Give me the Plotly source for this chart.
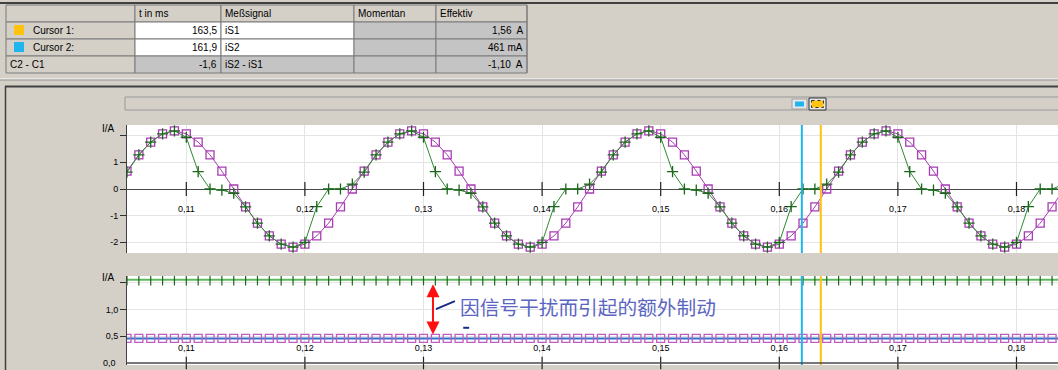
import plotly.graph_objects as go

# ---------------- data ----------------
t_ms = [105, 106, 107, 108, 109, 110, 111, 112, 113, 114,
        115, 116, 117, 118, 119, 120, 121, 122, 123,
        124, 125, 126, 127, 128, 129, 130, 131, 132, 133,
        134, 135, 136, 137, 138, 139, 140, 141, 142, 143,
        144, 145, 146, 147, 148, 149, 150, 151, 152, 153,
        154, 155, 156, 157, 158, 159, 160, 161, 162, 163,
        164, 165, 166, 167, 168, 169, 170, 171, 172, 173,
        174, 175, 176, 177, 178, 179, 180, 181, 182, 183,
        184]

# upper chart, pink squares (undisturbed sine)
i_ref = [0.67, 1.28, 1.76, 2.07, 2.18, 2.07, 1.76, 1.28, 0.67, 0.00,
         -0.67, -1.28, -1.76, -2.07, -2.18, -2.07, -1.76, -1.28, -0.67,
         0.00, 0.67, 1.28, 1.76, 2.07, 2.18, 2.07, 1.76, 1.28, 0.67,
         0.00, -0.67, -1.28, -1.76, -2.07, -2.18, -2.07, -1.76, -1.28, -0.67,
         0.00, 0.67, 1.28, 1.76, 2.07, 2.18, 2.07, 1.76, 1.28, 0.67,
         0.00, -0.67, -1.28, -1.76, -2.07, -2.18, -2.07, -1.76, -1.28, -0.67,
         0.00, 0.67, 1.28, 1.76, 2.07, 2.18, 2.07, 1.76, 1.28, 0.67,
         0.00, -0.67, -1.28, -1.76, -2.07, -2.18, -2.07, -1.76, -1.28, -0.67,
         0.00]

# upper chart, green crosses (disturbed signal)
i_meas = [0.63, 1.28, 1.76, 2.07, 2.18, 1.94, 0.65, 0.00, -0.04, -0.16,
          -0.67, -1.28, -1.76, -2.07, -2.18, -2.00, -0.66, 0.00, 0.00,
          0.18, 0.63, 1.28, 1.76, 2.07, 2.18, 1.94, 0.65, 0.00, -0.04,
          -0.16, -0.67, -1.28, -1.76, -2.07, -2.18, -2.00, -0.66, 0.00, 0.00,
          0.18, 0.63, 1.28, 1.76, 2.07, 2.18, 1.94, 0.65, 0.00, -0.04,
          -0.16, -0.67, -1.28, -1.76, -2.07, -2.18, -2.00, -0.66, 0.00, 0.00,
          0.18, 0.63, 1.28, 1.76, 2.07, 2.18, 1.94, 0.65, 0.00, -0.04,
          -0.16, -0.67, -1.28, -1.76, -2.07, -2.18, -2.00, -0.66, 0.00, 0.00,
          0.18]

# lower chart, effective values
rms_meas = [1.56, 1.56, 1.56, 1.56, 1.56, 1.56, 1.56, 1.56, 1.56, 1.56,
            1.56, 1.56, 1.56, 1.56, 1.56, 1.56, 1.56, 1.56, 1.56, 1.56,
            1.56, 1.56, 1.56, 1.56, 1.56, 1.56, 1.56, 1.56, 1.56, 1.56,
            1.56, 1.56, 1.56, 1.56, 1.56, 1.56, 1.56, 1.56, 1.56, 1.56,
            1.56, 1.56, 1.56, 1.56, 1.56, 1.56, 1.56, 1.56, 1.56, 1.56,
            1.56, 1.56, 1.56, 1.56, 1.56, 1.56, 1.56, 1.56, 1.56, 1.56,
            1.56, 1.56, 1.56, 1.56, 1.56, 1.56, 1.56, 1.56, 1.56, 1.56,
            1.56, 1.56, 1.56, 1.56, 1.56, 1.56, 1.56, 1.56, 1.56, 1.56]
rms_ref = [0.461, 0.461, 0.461, 0.461, 0.461, 0.461, 0.461, 0.461, 0.461, 0.461,
           0.461, 0.461, 0.461, 0.461, 0.461, 0.461, 0.461, 0.461, 0.461, 0.461,
           0.461, 0.461, 0.461, 0.461, 0.461, 0.461, 0.461, 0.461, 0.461, 0.461,
           0.461, 0.461, 0.461, 0.461, 0.461, 0.461, 0.461, 0.461, 0.461, 0.461,
           0.461, 0.461, 0.461, 0.461, 0.461, 0.461, 0.461, 0.461, 0.461, 0.461,
           0.461, 0.461, 0.461, 0.461, 0.461, 0.461, 0.461, 0.461, 0.461, 0.461,
           0.461, 0.461, 0.461, 0.461, 0.461, 0.461, 0.461, 0.461, 0.461, 0.461,
           0.461, 0.461, 0.461, 0.461, 0.461, 0.461, 0.461, 0.461, 0.461, 0.461]

x_tickvals = [0.11, 0.12, 0.13, 0.14, 0.15, 0.16, 0.17, 0.18]
x_ticktext = ["0,11", "0,12", "0,13", "0,14", "0,15", "0,16", "0,17", "0,18"]
y1_tickvals = [-2, -1, 0, 1, 2]
y1_ticktext = ["-2", "-1", "0", "1", ""]
y2_tickvals = [0.0, 0.5, 1.0, 1.5]
y2_ticktext = ["0,0", "0,5", "1,0", ""]

cursor_ms = [163.5, 161.9]          # cursor 1, cursor 2
cursor_colors = ["#ffc20e", "#1eb4ec"]

table_header = ["", "t in ms", "Meßsignal", "Momentan", "Effektiv"]
table_rows = [["Cursor 1:", "163,5", "iS1", "", "1,56  A"],
              ["Cursor 2:", "161,9", "iS2", "", "461 mA"],
              ["C2 - C1", "-1,6", "iS2 - iS1", "", "-1,10  A"]]

note_text = "因信号干扰而引起的额外制动"

# ---------------- geometry helpers (pixel -> paper) ----------------
W, H = 1058, 370


def fx(px):
    return px / W


def fy(py):
    return 1 - py / H


t = [v / 1000 for v in t_ms]
X_RANGE = [0.105, 0.1835]
GRID = "#e4e4e4"
BG = "#d4d0c8"
FONT = "Liberation Sans, Arial, sans-serif"

fig = go.Figure()

# upper chart
fig.add_trace(go.Scatter(
    x=t, y=i_ref, xaxis="x", yaxis="y", mode="lines+markers", name="iS1",
    line=dict(color="#a83cb4", width=1),
    marker=dict(symbol="square-open", size=8, color="#a83cb4", line=dict(width=1.3))))
fig.add_trace(go.Scatter(
    x=t, y=i_meas, xaxis="x", yaxis="y", mode="lines+markers", name="iS2",
    line=dict(color="#2e8a2e", width=1),
    marker=dict(symbol="cross-thin-open", size=8, color="#1c661c",
                line=dict(width=1.3, color="#1c661c"))))
# crossing tick marks on the zero line (upper)
fig.add_trace(go.Scatter(
    x=x_tickvals, y=[0] * len(x_tickvals), xaxis="x", yaxis="y", mode="markers",
    hoverinfo="skip",
    marker=dict(symbol="line-ns", size=10, color="#202020", line=dict(width=1.2, color="#202020"))))

# lower chart
fig.add_trace(go.Scatter(
    x=t, y=rms_meas, xaxis="x2", yaxis="y2", mode="lines+markers", name="rms iS1",
    line=dict(color="#5cb85c", width=2),
    marker=dict(symbol="line-ns", size=8, color="#1c661c", line=dict(width=1.2, color="#1c661c"))))
fig.add_trace(go.Scatter(
    x=t, y=rms_ref, xaxis="x2", yaxis="y2", mode="lines+markers", name="rms iS2",
    line=dict(color="#2a74c8", width=2),
    marker=dict(symbol="square-open", size=8, color="#c05cc0", line=dict(width=1.3))))
fig.add_trace(go.Scatter(
    x=x_tickvals, y=[0] * len(x_tickvals), xaxis="x2", yaxis="y2", mode="markers",
    hoverinfo="skip", cliponaxis=False,
    marker=dict(symbol="line-ns", size=9, color="#202020", line=dict(width=1.2, color="#202020"))))

shapes = []
annotations = []

# cursors
for ms, col in zip(cursor_ms, cursor_colors):
    for xr, yr in (("x", "y domain"), ("x2", "y2 domain")):
        shapes.append(dict(type="line", xref=xr, yref=yr, x0=ms / 1000, x1=ms / 1000,
                           y0=0, y1=1, line=dict(color=col, width=2)))

# lower chart zero axis line and its label (plotly hides the edge tick label)
shapes.append(dict(type="line", xref="x2 domain", yref="y2", x0=0, x1=1, y0=y2_tickvals[0], y1=y2_tickvals[0],
                   line=dict(color="#4a4a4a", width=1.5)))
annotations.append(dict(xref="paper", yref="y2", x=fx(118), y=y2_tickvals[0], xanchor="right",
                        yanchor="middle", text=y2_ticktext[0], showarrow=False,
                        font=dict(size=9, family=FONT, color="#000000")))
y2_axis_text = [""] + y2_ticktext[1:]

# ---------------- window chrome ----------------
shapes.append(dict(type="line", xref="paper", yref="paper", x0=0, x1=1, y0=fy(3), y1=fy(3),
                   line=dict(color="#404040", width=2)))
shapes.append(dict(type="line", xref="paper", yref="paper", x0=0, x1=1, y0=fy(79), y1=fy(79),
                   line=dict(color="#ffffff", width=1)))
shapes.append(dict(type="line", xref="paper", yref="paper", x0=0, x1=1, y0=fy(80), y1=fy(80),
                   line=dict(color="#909090", width=1)))
shapes.append(dict(type="line", xref="paper", yref="paper", x0=fx(5), x1=1, y0=fy(86.5), y1=fy(86.5),
                   line=dict(color="#404040", width=2)))
shapes.append(dict(type="line", xref="paper", yref="paper", x0=fx(5.5), x1=fx(5.5), y0=fy(86), y1=0,
                   line=dict(color="#404040", width=1.5)))
# scroll bar + cursor buttons
shapes.append(dict(type="rect", xref="paper", yref="paper", x0=fx(125), x1=fx(1060), y0=fy(97), y1=fy(110),
                   fillcolor=BG, line=dict(color="#9a9a9a", width=1)))
shapes.append(dict(type="rect", xref="paper", yref="paper", x0=fx(792), x1=fx(807), y0=fy(99), y1=fy(109),
                   fillcolor="#e8e8e8", line=dict(color="#a0a0a0", width=1)))
shapes.append(dict(type="rect", xref="paper", yref="paper", x0=fx(795), x1=fx(804), y0=fy(101.5), y1=fy(106.5),
                   fillcolor=cursor_colors[1], line=dict(width=0)))
shapes.append(dict(type="rect", xref="paper", yref="paper", x0=fx(809), x1=fx(826), y0=fy(98), y1=fy(110),
                   fillcolor="#e8e8e8", line=dict(color="#303030", width=1)))
shapes.append(dict(type="rect", xref="paper", yref="paper", x0=fx(811.5), x1=fx(823.5), y0=fy(100.5), y1=fy(107.5),
                   fillcolor=cursor_colors[0], line=dict(color="#303030", width=1, dash="dot")))

# ---------------- table ----------------
cols = [6, 135, 221, 354, 436, 527]
rows = [5, 22, 39, 56, 73]
cell_fill = [[BG, BG, BG, BG, BG],
             [BG, "#ffffff", "#ffffff", "#c4c4c4", "#c4c4c4"],
             [BG, "#ffffff", "#ffffff", "#c4c4c4", "#c4c4c4"],
             [BG, "#c4c4c4", "#c4c4c4", "#c4c4c4", "#c4c4c4"]]
align = ["left", "right", "left", "left", "right"]
all_rows = [table_header] + table_rows
for r in range(4):
    for c in range(5):
        shapes.append(dict(type="rect", xref="paper", yref="paper",
                           x0=fx(cols[c]), x1=fx(cols[c + 1]), y0=fy(rows[r + 1]), y1=fy(rows[r]),
                           fillcolor=cell_fill[r][c], line=dict(color="#7a7a7a", width=1)))
        txt = all_rows[r][c]
        if not txt:
            continue
        if c == 0 and r in (1, 2):
            xa, xpos = "left", cols[0] + 25
            sq_col = cursor_colors[r - 1]
            shapes.append(dict(type="rect", xref="paper", yref="paper",
                               x0=fx(cols[0] + 8), x1=fx(cols[0] + 18),
                               y0=fy(rows[r] + 13), y1=fy(rows[r] + 3),
                               fillcolor=sq_col, line=dict(width=0)))
        elif align[c] == "right" and r > 0:
            xa, xpos = "right", cols[c + 1] - 2
        else:
            xa, xpos = "left", cols[c] + 2
        annotations.append(dict(xref="paper", yref="paper", x=fx(xpos), y=fy((rows[r] + rows[r + 1]) / 2),
                                xanchor=xa, yanchor="middle", text=txt, showarrow=False,
                                font=dict(size=10, family=FONT, color="#000000")))
shapes.append(dict(type="line", xref="paper", yref="paper", x0=fx(cols[-1]), x1=fx(cols[-1]),
                   y0=fy(rows[-1]), y1=fy(rows[0]), line=dict(color="#7a7a7a", width=1)))

# axis unit labels
annotations.append(dict(xref="paper", yref="paper", x=fx(117), y=fy(128), xanchor="right", yanchor="middle",
                        text="I/A", showarrow=False, font=dict(size=10, family=FONT)))
annotations.append(dict(xref="paper", yref="paper", x=fx(117), y=fy(277), xanchor="right", yanchor="middle",
                        text="I/A", showarrow=False, font=dict(size=10, family=FONT)))

# red double arrow between the two effective-value lines
arrow_x = 0.1308
annotations.append(dict(xref="x2", yref="y2", axref="x2", ayref="y2",
                        x=arrow_x, y=rms_ref[0], ax=arrow_x, ay=rms_meas[0],
                        text="", showarrow=True, arrowhead=2, startarrowhead=2, arrowside="end+start",
                        arrowsize=1.3, startarrowsize=1.3, arrowwidth=2, arrowcolor="#ff1010",
                        standoff=4, startstandoff=3))
annotations.append(dict(xref="x2", yref="y2", x=0.1329, y=1.05, xanchor="left", yanchor="middle",
                        text=note_text, showarrow=False,
                        font=dict(size=19.7, family="Noto Sans CJK SC", color="#5a66c2")))
# small leader strokes
shapes.append(dict(type="line", xref="x2", yref="y2", x0=0.13105, x1=0.13265, y0=1.01, y1=1.16,
                   line=dict(color="#1a2a80", width=2)))
shapes.append(dict(type="line", xref="x2", yref="y2", x0=0.13335, x1=0.13385, y0=0.66, y1=0.66,
                   line=dict(color="#1a2a80", width=2)))

axis_common = dict(showline=False, zeroline=False, gridcolor=GRID, gridwidth=1, showgrid=True,
                   tickfont=dict(size=9, family=FONT, color="#000000"))

fig.update_layout(
    width=W, height=H, autosize=False, margin=dict(l=0, r=0, t=0, b=0, pad=0),
    paper_bgcolor=BG, plot_bgcolor="#ffffff", showlegend=False,
    font=dict(family=FONT, size=10, color="#000000"), separators=",.",
    xaxis=dict(domain=[fx(127), 1], range=X_RANGE, anchor="free", position=fy(189),
               tickvals=x_tickvals, ticktext=x_ticktext, ticks="", ticklabelstandoff=13,
               **axis_common),
    yaxis=dict(domain=[fy(253), fy(125)], range=[-2.4, 2.4], anchor="x",
               tickvals=y1_tickvals, ticktext=y1_ticktext, ticks="outside", ticklen=6,
               tickcolor="#303030", showline=True, linecolor="#404040", linewidth=1,
               zeroline=True, zerolinecolor="#4a4a4a", zerolinewidth=1,
               showgrid=True, gridcolor=GRID, tickfont=dict(size=9, family=FONT, color="#000000")),
    xaxis2=dict(domain=[fx(127), 1], range=X_RANGE, anchor="free", position=fy(363),
                tickvals=x_tickvals, ticktext=x_ticktext, ticks="", ticklabelposition="inside",
                ticklabelstandoff=7, **axis_common),
    yaxis2=dict(domain=[fy(365), fy(276)], range=[-0.0375, 1.631], anchor="x2",
                tickvals=y2_tickvals, ticktext=y2_axis_text, ticks="outside", ticklen=6,
                tickcolor="#303030", showline=True, linecolor="#404040", linewidth=1,
                zeroline=False,
                showgrid=True, gridcolor=GRID, tickfont=dict(size=9, family=FONT, color="#000000")),
    shapes=shapes, annotations=annotations,
)

fig.write_html(
    "out.html",
    config={"displayModeBar": False},
    post_script=("document.documentElement.style.overflow='hidden';"
                 "document.body.style.margin='0';document.body.style.overflow='hidden';"
                 "var gd=document.getElementById('{plot_id}');"
                 "gd.style.position='absolute';gd.style.left='0px';gd.style.top='0px';"),
)
